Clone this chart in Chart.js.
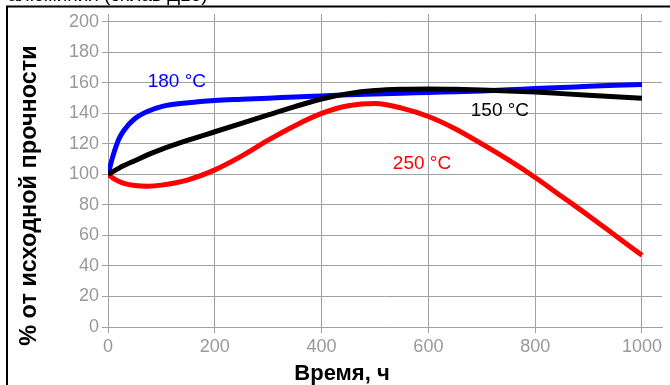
<!DOCTYPE html>
<html>
<head>
<meta charset="utf-8">
<script src="https://cdn.jsdelivr.net/npm/chart.js@4/dist/chart.umd.min.js"></script>
<style>
  html, body { margin: 0; padding: 0; background: #fff; }
  #wrap { width: 670px; height: 385px; position: relative; }
</style>
</head>
<body>
<div id="wrap"><canvas id="strengthChart" width="670" height="385"></canvas></div>
<script>
/* ── Data ── */
const hours = [0, 10, 20, 30, 50, 75, 100, 150, 200, 250, 300, 350, 400, 450, 500, 550, 600, 650, 700, 750, 800, 850, 900, 950, 1000];
const s150  = [100, 102, 104, 105.8, 109, 113, 116.5, 122.5, 128, 133.5, 139, 144.5, 149.5, 153, 155, 155.8, 156, 155.8, 155.4, 154.8, 154, 153, 152, 151, 150];
const s180  = [100, 113, 123, 129, 136.5, 141.5, 144.5, 147, 148.5, 149.3, 150, 150.8, 151.5, 152.2, 152.8, 153.3, 153.8, 154.3, 154.8, 155.5, 156.3, 157, 157.8, 158.5, 159];
const s250  = [100, 97.5, 95.5, 94.2, 92.8, 92.3, 93, 96.5, 103, 112, 122.5, 132, 140, 145, 146.5, 143.5, 138, 130, 120, 109.5, 98, 85.5, 73, 60, 47];

const xTicks = [0, 200, 400, 600, 800, 1000];
const yTicks = [0, 20, 40, 60, 80, 100, 120, 140, 160, 180, 200];

const seriesNames  = ['150 °C', '180 °C', '250 °C'];
const seriesColors = ['#000000', '#0000ff', '#ff0000'];
/* curve captions, in data coordinates */
const capX = [734, 129, 588];
const capY = [141.6, 160.7, 106.9];

const xTitle = 'Время, ч';
const yTitle = '% от исходной прочности';
const topText = 'алюминия (сплав Д16)';

const pts = arr => arr.map((v, i) => ({x: hours[i], y: v}));
const FONT = '"Liberation Sans", Arial, sans-serif';

/* ── Extras: frame, cut-off heading, axis titles, curve captions ── */
const extras = {
  id: 'extras',
  afterDraw(chart) {
    const {ctx, scales: {x, y}} = chart;
    ctx.save();
    // frame
    ctx.strokeStyle = '#000';
    ctx.lineWidth = 2;
    ctx.beginPath();
    ctx.moveTo(670, 6.5); ctx.lineTo(7, 6.5); ctx.lineTo(7, 385);
    ctx.stroke();
    // heading, mostly above the window
    ctx.fillStyle = '#000';
    ctx.font = '19px ' + FONT;
    ctx.textAlign = 'left';
    ctx.textBaseline = 'alphabetic';
    ctx.fillText(topText, 8, 1);
    // axis titles
    ctx.textAlign = 'center';
    ctx.font = 'bold 22px ' + FONT;
    ctx.fillText(xTitle, 342, 380);
    ctx.save();
    ctx.translate(35.5, 195.5);
    ctx.rotate(-Math.PI / 2);
    ctx.font = 'bold 23.5px ' + FONT;
    ctx.fillText(yTitle, 0, 0);
    ctx.restore();
    // captions
    ctx.textBaseline = 'middle';
    ctx.font = '19px ' + FONT;
    seriesNames.forEach((n, i) => {
      ctx.fillStyle = seriesColors[i];
      ctx.fillText(n, x.getPixelForValue(capX[i]), y.getPixelForValue(capY[i]));
    });
    ctx.restore();
  }
};

new Chart(document.getElementById('strengthChart'), {
  type: 'line',
  data: {
    datasets: [
      {data: pts(s150), borderColor: seriesColors[0]},
      {data: pts(s180), borderColor: seriesColors[1]},
      {data: pts(s250), borderColor: seriesColors[2]}
    ].map(d => Object.assign(d, {borderWidth: 5, pointRadius: 0, fill: false, cubicInterpolationMode: 'monotone'}))
  },
  options: {
    responsive: false,
    animation: false,
    layout: {padding: {top: 14, right: 8, left: 0, bottom: 0}},
    plugins: {legend: {display: false}, tooltip: {enabled: false}},
    scales: {
      x: {
        type: 'linear',
        min: 0, max: 1037.5,
        afterBuildTicks: s => { s.ticks = xTicks.map(v => ({value: v})); },
        afterFit: s => { s.height = 58; },
        grid: {color: '#a0a0a0', lineWidth: 1, tickLength: 6, tickColor: '#a0a0a0'},
        border: {color: '#a0a0a0'},
        ticks: {color: '#999', font: {family: FONT, size: 18}, padding: 3, maxRotation: 0, autoSkip: false, callback: v => String(v)}
      },
      y: {
        min: 0, max: 205.2,
        afterBuildTicks: s => { s.ticks = yTicks.map(v => ({value: v})); },
        afterFit: s => { s.width = 108; },
        grid: {color: '#a0a0a0', lineWidth: 1, tickLength: 6, tickColor: '#a0a0a0'},
        border: {color: '#a0a0a0'},
        ticks: {color: '#999', font: {family: FONT, size: 18}, padding: 3, autoSkip: false, callback: v => String(v)}
      }
    }
  },
  plugins: [extras]
});
</script>
</body>
</html>
